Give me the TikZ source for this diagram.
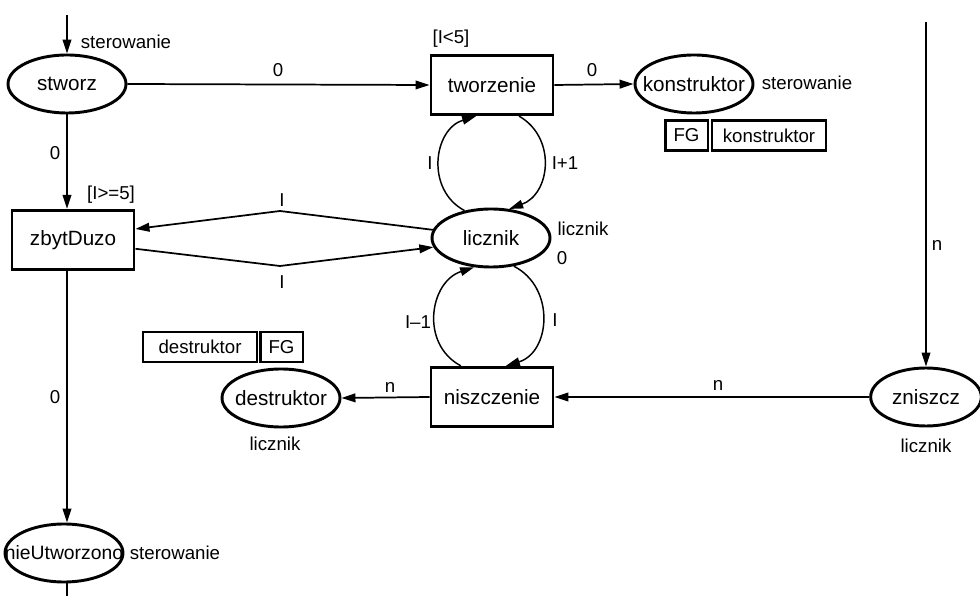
\documentclass[tikz,border=0pt]{standalone}
\usepackage{fontspec}
\setmainfont{Liberation Sans}
\usetikzlibrary{shapes.geometric,arrows.meta}

\tikzset{
    place/.style={ellipse, draw, line width=2.2pt, minimum width=88.5pt, minimum height=43.5pt, inner sep=0pt, font=\fontsize{15.5}{18}\selectfont},
    trans/.style={rectangle, draw, line width=2.2pt, minimum width=91.5pt, minimum height=44.5pt, inner sep=0pt, font=\fontsize{15.5}{18}\selectfont},
    fusion/.style={rectangle, draw, line width=2pt, minimum height=22.5pt, inner sep=4pt, font=\fontsize{14}{17}\selectfont},
    flow/.style={line width=1.3pt, -{Triangle[length=10.5pt,width=6.5pt]}},
    loop/.style={line width=1.1pt, -{Triangle[length=10.5pt,width=6.5pt]}},
    inscr/.style={inner sep=0pt, font=\fontsize{14}{17}\selectfont},
}

\begin{document}
\begin{tikzpicture}[x=0.75pt, y=0.75pt]
    \useasboundingbox (0,0) rectangle (980,596);

    \coordinate (IN) at (67,581);
    \coordinate (OUT) at (67,0);
    \coordinate (ZIN) at (926,574);
    \coordinate (U) at (280,385);
    \coordinate (D) at (280,330);

    \node[place] (stworz) at (67,512) {stworz};
    \node[trans] (tworzenie) at (492,511) {tworzenie};
    \node[place] (konstruktor) at (694,512) {\makebox[0pt]{konstruktor}};
    \node[trans] (zbytDuzo) at (73,356) {zbytDuzo};
    \node[place] (licznik) at (491,358) {licznik};
    \node[trans] (niszczenie) at (492,199) {niszczenie};
    \node[place] (destruktor) at (281,198) {\makebox[0pt]{destruktor}};
    \node[place, minimum width=83pt] (zniszcz) at (926,199) {zniszcz};
    \node[place, font=\fontsize{14.5}{17}\selectfont] (nieUtworzono) at (64,43) {\makebox[0pt]{nieUtworzono}};

    \node[fusion, minimum width=32pt] (FGk) at (686.5,460.5) {FG};
    \node[fusion, minimum width=85.5pt] (FGkn) at (769,460.5) {konstruktor};
    \node[fusion, minimum width=85.5pt] (FGdn) at (200,249) {destruktor};
    \node[fusion, minimum width=32pt] (FGd) at (281.5,249) {FG};

    \draw[flow] (IN) to (stworz.north);
    \draw[flow] (stworz.east) to (tworzenie.west);
    \draw[flow] (tworzenie.east) to (konstruktor.west);
    \draw[flow] (stworz.south) to (stworz.south |- zbytDuzo.north);
    \draw[flow] (zbytDuzo.south -| OUT) to (nieUtworzono.north -| OUT);
    \draw[line width=1.3pt] (nieUtworzono.south -| OUT) to (OUT);
    \draw[flow] (licznik.172) -- (U) -- (zbytDuzo.10);
    \draw[flow] (zbytDuzo.-8) -- (D) -- (licznik.189);
    \draw[loop] (licznik.134) to [out=152, in=197, looseness=1.2] (tworzenie.243);
    \draw[loop] (tworzenie.311) to [out=-30, in=20, looseness=1.2] (licznik.58);
    \draw[loop] (niszczenie.135) to [out=152, in=198, looseness=1.2] (licznik.240);
    \draw[loop] (licznik.309) to [out=-27, in=17, looseness=1.2] (niszczenie.66);
    \draw[flow] (ZIN) to (zniszcz.north);
    \draw[flow] (zniszcz.west) to (niszczenie.east);
    \draw[flow] (niszczenie.west) to (destruktor.east);

    \node[inscr] (c1) at (126,554) {sterowanie};
    \node[inscr] (c2) at (807,513) {sterowanie};
    \node[inscr] (c3) at (583,367) {licznik};
    \node[inscr] (c4) at (275,152) {licznik};
    \node[inscr] (c5) at (926,150) {licznik};
    \node[inscr] (c6) at (175,43) {sterowanie};

    \node[inscr] (g1) at (451,557) {[I<5]};
    \node[inscr] (g2) at (111,401) {[I>=5]};
    \node[inscr] (m1) at (562,338) {0};

    \node[inscr] (e1) at (278,526) {0};
    \node[inscr] (e2) at (592,526) {0};
    \node[inscr] (e3) at (55,443) {0};
    \node[inscr] (e4) at (55,199) {0};
    \node[inscr] (e5) at (937,351) {n};
    \node[inscr] (e6) at (718,211) {n};
    \node[inscr] (e7) at (390,209) {n};
    \node[inscr] (e8) at (282,396) {I};
    \node[inscr] (e9) at (282,314) {I};
    \node[inscr] (e10) at (430,433) {I};
    \node[inscr] (e11) at (565,433) {I+1};
    \node[inscr] (e12) at (418,274) {I\textendash1};
    \node[inscr] (e13) at (555,276) {I};
\end{tikzpicture}
\end{document}
